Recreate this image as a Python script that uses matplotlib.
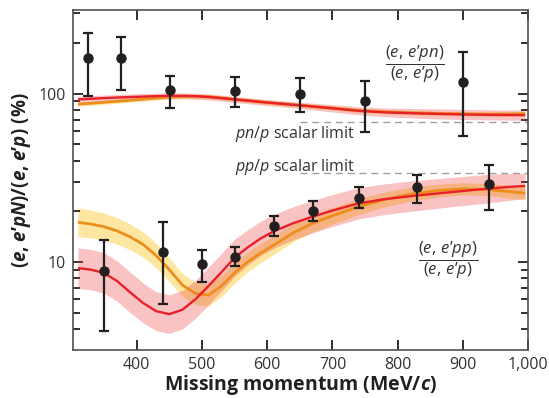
import numpy as np
import matplotlib
matplotlib.use("Agg")
import matplotlib.pyplot as plt
from matplotlib.ticker import FixedLocator, NullFormatter

plt.rcParams['font.family'] = ['Open Sans', 'DejaVu Sans']
plt.rcParams['mathtext.fontset'] = 'custom'
plt.rcParams['mathtext.rm'] = 'Open Sans'
plt.rcParams['mathtext.it'] = 'Open Sans:italic'
plt.rcParams['mathtext.bf'] = 'Open Sans:bold'
try:
    plt.rcParams['mathtext.bfit'] = 'Open Sans:bold:italic'
except KeyError:
    pass

# ---------------- data ----------------
# (e,e'pn)/(e,e'p) measurements
pn_x = [325, 376, 451, 551, 650, 750, 900]
pn_y = [162, 162, 105, 103, 100, 90, 117]
pn_lo = [96.6, 105, 81.6, 82.8, 77.6, 59, 56]
pn_hi = [229, 216, 127.6, 125, 124, 119, 176]

# (e,e'pp)/(e,e'p) measurements
pp_x = [350, 440, 500, 550, 610, 670, 740, 830, 940]
pp_y = [8.8, 11.4, 9.7, 10.75, 16.4, 20.1, 24.0, 27.9, 29.0]
pp_lo = [3.9, 5.66, 7.6, 9.4, 14.3, 17.6, 20.8, 22.5, 20.4]
pp_hi = [13.5, 17.3, 11.8, 12.2, 18.8, 23.0, 28.0, 33.0, 37.8]

# theory curves (common momentum grid)
curve_x = [310, 330, 350, 370, 390, 410, 430, 450, 470, 490, 510, 530, 550, 570,
           590, 610, 640, 670, 700, 740, 780, 820, 860, 900, 940, 970, 995]
red_pn = [92.4, 93.2, 94.0, 94.8, 95.4, 96.0, 96.6, 97.0, 97.0, 96.5, 95.5, 94.0, 92.3, 90.8,
          89.2, 87.8, 85.8, 83.8, 81.8, 79.0, 77.4, 76.5, 75.8, 75.2, 74.8, 74.6, 74.5]
orange_pn = [86.6, 87.6, 88.8, 90.0, 91.3, 92.6, 94.0, 95.4, 96.4, 96.5, 95.8, 94.3, 92.6, 91.0,
             89.4, 88.0, 86.0, 84.0, 82.0, 79.5, 78.0, 77.0, 76.3, 75.8, 75.5, 75.6, 76.0]
red_pp = [9.2, 9.0, 8.6, 7.7, 6.6, 5.7, 5.1, 4.9, 5.2, 6.0, 7.2, 8.7, 10.6, 12.2,
          13.8, 15.2, 17.0, 18.6, 20.2, 22.3, 23.6, 24.6, 25.5, 26.4, 27.3, 27.9, 28.3]
orange_pp = [17.2, 16.8, 16.2, 15.3, 14.1, 12.7, 10.9, 9.0, 7.3, 6.5, 6.35, 7.2, 8.6, 10.0,
             11.3, 12.6, 14.9, 17.0, 18.8, 21.3, 23.5, 25.3, 26.5, 27.2, 26.9, 26.2, 25.6]
# band half widths (in decades)
red_pn_w = [0.018] * 17 + [0.02, 0.022, 0.024, 0.026, 0.028, 0.03, 0.03, 0.03, 0.03, 0.03]
orange_pn_w = [0.012] * 27
red_pp_w = [0.12, 0.12, 0.12, 0.12, 0.12, 0.118, 0.116, 0.115, 0.114, 0.113, 0.112, 0.111, 0.11, 0.105,
            0.102, 0.1, 0.098, 0.096, 0.095, 0.093, 0.091, 0.09, 0.088, 0.086, 0.085, 0.08, 0.075]
orange_pp_w = [0.085, 0.083, 0.081, 0.079, 0.077, 0.075, 0.072, 0.07, 0.068, 0.066, 0.065, 0.063, 0.061, 0.059,
               0.057, 0.055, 0.053, 0.051, 0.05, 0.047, 0.044, 0.041, 0.038, 0.036, 0.036, 0.038, 0.04]

pn_limit = 67.5
pp_limit = 33.9
limit_x = [650, 1000]

xticks = [400, 500, 600, 700, 800, 900, 1000]
xticklabels = ['400', '500', '600', '700', '800', '900', '1,000']
yticks = [10, 100]
yticklabels = ['10', '100']
yminor = [4, 5, 6, 7, 8, 9, 20, 30, 40, 50, 60, 70, 80, 90, 200, 300]

# ---------------- plot ----------------
W, H = 549, 398
fig = plt.figure(figsize=(W / 100, H / 100), dpi=100)
L, R, T, B = 72.7, 528.3, 9.7, 350
ax = fig.add_axes([L / W, 1 - B / H, (R - L) / W, (B - T) / H])
ax.set_yscale('log')
ax.set_xlim(302, 1000)
ax.set_ylim(3, 315)

RED = '#E8202A'
ORANGE = '#EB8E1C'
YELLOW_BAND = '#FDE6A0'
RED_BAND = (0.93, 0.27, 0.27, 0.32)

cx = np.array(curve_x)

def band(center, w, color, z):
    c = np.array(center)
    f = 10 ** np.array(w)
    ax.fill_between(cx, c / f, c * f, color=color, lw=0, zorder=z)

band(orange_pn, orange_pn_w, YELLOW_BAND, 1)
band(orange_pp, orange_pp_w, YELLOW_BAND, 1)
band(red_pn, red_pn_w, RED_BAND, 2)
band(red_pp, red_pp_w, RED_BAND, 2)
ax.plot(cx, orange_pn, color=ORANGE, lw=2.0, zorder=3, solid_capstyle='butt')
ax.plot(cx, orange_pp, color=ORANGE, lw=2.0, zorder=3, solid_capstyle='butt')
ax.plot(cx, red_pn, color=RED, lw=1.7, zorder=4, solid_capstyle='butt')
ax.plot(cx, red_pp, color=RED, lw=1.7, zorder=4, solid_capstyle='butt')

ax.plot(limit_x, [pn_limit] * 2, color='#A0A0A0', lw=1.0, ls=(0, (5, 3.5)), zorder=1.5)
ax.plot(limit_x, [pp_limit] * 2, color='#A0A0A0', lw=1.0, ls=(0, (5, 3.5)), zorder=1.5)

ekw = dict(fmt='o', color='#231F20', ms=6.5, elinewidth=1.6, capsize=3.3, capthick=1.6, zorder=6)
pny = np.array(pn_y); ppy = np.array(pp_y)
ax.errorbar(pn_x, pny, yerr=[pny - np.array(pn_lo), np.array(pn_hi) - pny], **ekw)
ax.errorbar(pp_x, ppy, yerr=[ppy - np.array(pp_lo), np.array(pp_hi) - ppy], **ekw)

# axes styling
for s in ax.spines.values():
    s.set_color('#505050')
    s.set_linewidth(1.2)
ax.set_xticks(xticks)
ax.set_xticklabels(xticklabels)
ax.yaxis.set_major_locator(FixedLocator(yticks))
ax.set_yticklabels(yticklabels)
ax.yaxis.set_minor_locator(FixedLocator(yminor))
ax.yaxis.set_minor_formatter(NullFormatter())
ax.tick_params(which='both', direction='in', top=True, right=True, color='#231F20',
               labelcolor='#333333', labelsize=11.5)
ax.tick_params(which='major', length=7, width=1.3, pad=5)
ax.tick_params(which='minor', length=4.8, width=1.3)
ax.tick_params(axis='x', pad=5)

ax.set_xlabel(r'Missing momentum (MeV/$\mathbfit{c}$)', fontsize=14, fontweight='bold',
              color='#231F20', labelpad=0)
ax.set_ylabel(r'$\mathbf{(}\mathbfit{e}\mathbf{,}\;\mathbfit{e}\mathbf{’}\mathbfit{pN}'
              r'\mathbf{)/(}\mathbfit{e}\mathbf{,}\;\mathbfit{e}\mathbf{’}\mathbfit{p}\mathbf{)\ (\%)}$',
              fontsize=13.5, color='#231F20', labelpad=4)

tc = '#333333'
ax.text(550, 57.5, r'$pn/p$ scalar limit', fontsize=11.5, color=tc, va='center', ha='left')
ax.text(550, 36.8, r'$pp/p$ scalar limit', fontsize=11.5, color=tc, va='center', ha='left')
ax.text(826, 149.6, r'$\dfrac{(e,\,e’pn)}{(e,\,e’p)}$', fontsize=12, color=tc, va='center', ha='center')
ax.text(877, 10.2, r'$\dfrac{(e,\,e’pp)}{(e,\,e’p)}$', fontsize=12, color=tc, va='center', ha='center')

fig.savefig('out.png', dpi=100)
